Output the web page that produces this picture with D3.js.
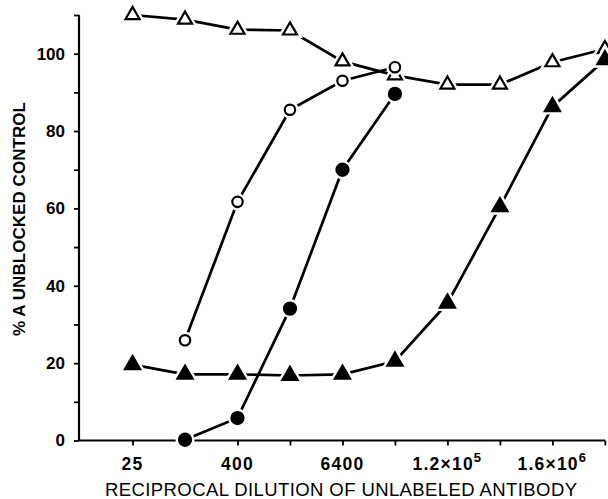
<!DOCTYPE html>
<html>
<head>
<meta charset="utf-8">
<script src="https://cdn.jsdelivr.net/npm/d3@7"></script>
<style>
  body { margin: 0; background: #fff; }
  text { font-family: "Liberation Sans", Arial, sans-serif; fill: #000; }
</style>
</head>
<body>
<div id="chart"></div>
<script>
var svg_width = 608;
var svg_height = 499;

// reciprocal dilution, fourfold steps
var dilutions = [25, 100, 400, 1600, 6400, 25600, 102400, 409600, 1638400, 6553600];
var xTickLabels = ["25", "", "400", "", "6400", "", "1.2×10|5", "", "1.6×10|6", ""];
var yTicks = [0, 20, 40, 60, 80, 100];

var openTri   = [110, 108.8, 106.2, 106, 98, 94.4, 92, 92, 97.8, 101.2];
var openCirc  = [null, 25.9, 61.7, 85.5, 93, 96.5, null, null, null, null];
var filledCirc = [null, 0.2, 5.8, 34.1, 70, 89.6, null, null, null, null];
var filledTri = [19.6, 17.1, 17.1, 16.8, 17.1, 20.5, 35.5, 60.4, 86.3, 98.4];

var x = d3.scaleLog()
  .domain([25 / Math.pow(4, 1.02), 6553600 * Math.pow(4, 0.04)])
  .range([79, 607]);
var y = d3.scaleLinear().domain([0, 110]).range([440.5, 15]);

var mysvg = d3.select("#chart")
  .append("svg")
  .attr("width", svg_width)
  .attr("height", svg_height);

// axes
var yAxis = d3.axisLeft(y)
  .tickValues(d3.range(0, 111, 10))
  .tickSize(5)
  .tickFormat(function(d){ return yTicks.indexOf(d) >= 0 ? d : ""; });
var gy = mysvg.append("g").attr("transform", "translate(79,0)").call(yAxis);
gy.select(".domain").attr("stroke-width", 2.2).attr("d", "M0," + y(110) + "V" + y(0));
gy.selectAll(".tick line").attr("stroke-width", 1.8);
gy.selectAll(".tick text").attr("font-size", 17).attr("x", -14).attr("font-weight", "bold")
  .attr("font-family", "Liberation Sans");

var xAxis = d3.axisBottom(x)
  .tickValues(dilutions)
  .tickSize(5)
  .tickFormat("");
var gx = mysvg.append("g").attr("transform", "translate(0,440.5)").call(xAxis);
gx.select(".domain").attr("stroke-width", 2.2).attr("d", "M79,0H605");
gx.selectAll(".tick line").attr("stroke-width", 1.8);

gx.selectAll(".lab")
  .data(dilutions)
  .enter()
  .append("text")
  .attr("x", function(d){ return x(d); })
  .attr("y", 29)
  .attr("text-anchor", "middle")
  .attr("font-size", 17.5)
  .attr("font-weight", "bold")
  .attr("letter-spacing", 1.2)
  .each(function(d, i){
    var parts = xTickLabels[i].split("|");
    var t = d3.select(this);
    t.append("tspan").text(parts[0]);
    if (parts[1]) t.append("tspan").attr("dy", -8).attr("font-size", 13).text(parts[1]);
  });

mysvg.append("text")
  .attr("x", 341).attr("y", 496)
  .attr("text-anchor", "middle")
  .attr("font-size", 18.5)
  .attr("textLength", 472)
  .text("RECIPROCAL DILUTION OF UNLABELED ANTIBODY");

mysvg.append("text")
  .attr("transform", "translate(25,219) rotate(-90)")
  .attr("text-anchor", "middle")
  .attr("font-size", 17)
  .attr("font-weight", "bold")
  .attr("textLength", 234)
  .text("% A UNBLOCKED CONTROL");

// series
var series = [
  { vals: openTri, shape: d3.symbolTriangle, fill: "#fff", size: 85 },
  { vals: openCirc, shape: d3.symbolCircle, fill: "#fff", size: 85 },
  { vals: filledCirc, shape: d3.symbolCircle, fill: "#000", size: 115 },
  { vals: filledTri, shape: d3.symbolTriangle, fill: "#000", size: 100 }
];

var line = d3.line()
  .defined(function(d){ return d[1] != null; })
  .x(function(d){ return x(d[0]); })
  .y(function(d){ return y(d[1]); });

series.forEach(function(s){
  var pts = dilutions.map(function(d, i){ return [d, s.vals[i]]; });
  mysvg.append("path")
    .attr("d", line(pts))
    .attr("fill", "none")
    .attr("stroke", "#000")
    .attr("stroke-width", 2.7);
});

series.forEach(function(s){
  var pts = dilutions.map(function(d, i){ return [d, s.vals[i]]; })
    .filter(function(p){ return p[1] != null; });
  var g = mysvg.append("g");
  // white halo so lines stop short of markers
  g.selectAll(".halo")
    .data(pts)
    .enter()
    .append("path")
    .attr("d", d3.symbol().type(s.shape).size(s.size))
    .attr("transform", function(d){ return "translate(" + x(d[0]) + "," + y(d[1]) + ")"; })
    .attr("fill", "#fff")
    .attr("stroke", "#fff")
    .attr("stroke-width", 7);
  g.selectAll(".mark")
    .data(pts)
    .enter()
    .append("path")
    .attr("d", d3.symbol().type(s.shape).size(s.size))
    .attr("transform", function(d){ return "translate(" + x(d[0]) + "," + y(d[1]) + ")"; })
    .attr("fill", s.fill)
    .attr("stroke", "#000")
    .attr("stroke-width", 2.2);
});
</script>
</body>
</html>
